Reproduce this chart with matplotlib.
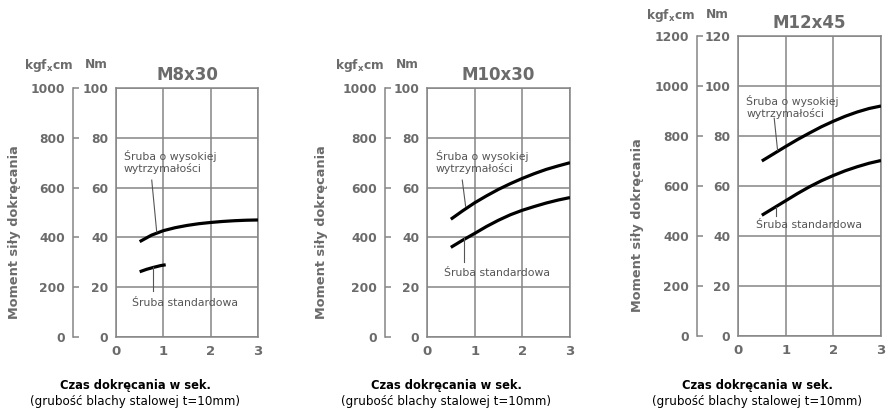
import matplotlib
matplotlib.use("Agg")
import matplotlib.pyplot as plt

plt.rcParams['font.family'] = ['DejaVu Sans']

W, H = 886, 409
DPI = 100

# ---------------- data (Nm) ----------------
titles = ["M8x30", "M10x30", "M12x45"]
x_ticks = [0, 1, 2, 3]
nm_ticks_small = [0, 20, 40, 60, 80, 100]
kgf_ticks_small = [0, 200, 400, 600, 800, 1000]
nm_ticks_big = [0, 20, 40, 60, 80, 100, 120]
kgf_ticks_big = [0, 200, 400, 600, 800, 1000, 1200]

m8_hs_x = [0.5, 0.75, 1.0, 1.25, 1.5, 1.75, 2.0, 2.25, 2.5, 2.75, 3.0]
m8_hs_y = [38.3, 40.9, 42.7, 43.9, 44.8, 45.5, 46.0, 46.4, 46.7, 46.9, 47.0]
m8_std_x = [0.5, 0.65, 0.8, 0.95, 1.05]
m8_std_y = [26.2, 27.2, 28.0, 28.7, 29.0]

m10_hs_x = [0.5, 0.75, 1.0, 1.25, 1.5, 1.75, 2.0, 2.25, 2.5, 2.75, 3.0]
m10_hs_y = [47.3, 50.7, 53.9, 56.7, 59.3, 61.6, 63.7, 65.6, 67.3, 68.7, 70.0]
m10_std_x = [0.5, 0.75, 1.0, 1.25, 1.5, 1.75, 2.0, 2.25, 2.5, 2.75, 3.0]
m10_std_y = [36.0, 38.9, 41.6, 44.4, 46.9, 49.1, 50.9, 52.4, 53.8, 55.0, 56.0]

m12_hs_x = [0.5, 0.75, 1.0, 1.25, 1.5, 1.75, 2.0, 2.25, 2.5, 2.75, 3.0]
m12_hs_y = [70.0, 72.9, 75.8, 78.6, 81.2, 83.7, 85.9, 87.9, 89.6, 91.0, 92.0]
m12_std_x = [0.5, 0.75, 1.0, 1.25, 1.5, 1.75, 2.0, 2.25, 2.5, 2.75, 3.0]
m12_std_y = [48.3, 51.2, 54.1, 57.0, 59.7, 62.1, 64.2, 66.1, 67.7, 69.1, 70.2]

label_hs = "Śruba o wysokiej\nwytrzymałości"
label_std = "Śruba standardowa"
ylabel = "Moment siły dokręcania"
xlabel1 = "Czas dokręcania w sek."
xlabel2 = "(grubość blachy stalowej t=10mm)"

GRAY = "#6b6b6b"
LINEG = "#858585"
ANN = "#555555"

fig = plt.figure(figsize=(W / DPI, H / DPI), dpi=DPI)


def fx(px):
    return px / W


def fy(py):
    return 1 - py / H


panels = [
    dict(l=116, r=258, t=88, b=337, spine=73, ymax=100, nm=nm_ticks_small, kgf=kgf_ticks_small,
         hs=(m8_hs_x, m8_hs_y), std=(m8_std_x, m8_std_y),
         hs_txt=(0.17, 70.3), hs_lead=((0.755, 63.0), (0.86, 42.2)),
         std_txt=(1.46, 13.8), std_lead=((0.79, 18.3), (0.79, 28.0)),
         title_y=75, head_y=65, head_kgf=49, head_nm=96, yl_x=15, yl_y=232, xl_x=135),
    dict(l=427, r=570, t=88, b=337, spine=385, ymax=100, nm=nm_ticks_small, kgf=kgf_ticks_small,
         hs=(m10_hs_x, m10_hs_y), std=(m10_std_x, m10_std_y),
         hs_txt=(0.18, 70.3), hs_lead=((0.74, 63.0), (0.81, 52.5)),
         std_txt=(1.47, 25.8), std_lead=((0.78, 30.2), (0.78, 39.6)),
         title_y=75, head_y=65, head_kgf=360, head_nm=407, yl_x=322, yl_y=232, xl_x=446),
    dict(l=738, r=881, t=36, b=336, spine=697, ymax=120, nm=nm_ticks_big, kgf=kgf_ticks_big,
         hs=(m12_hs_x, m12_hs_y), std=(m12_std_x, m12_std_y),
         hs_txt=(0.17, 91.6), hs_lead=((0.76, 87.1), (0.83, 74.3)),
         std_txt=(1.48, 44.4), std_lead=((0.79, 48.0), (0.79, 51.7)),
         title_y=23, head_y=15, head_kgf=671, head_nm=717, yl_x=638, yl_y=225, xl_x=757),
]

for i, p in enumerate(panels):
    ax = fig.add_axes([fx(p['l']), fy(p['b']), fx(p['r'] - p['l']), (p['b'] - p['t']) / H])
    ax.set_xlim(0, 3)
    ax.set_ylim(0, p['ymax'])
    ax.set_xticks(x_ticks)
    ax.set_yticks(p['nm'])
    ax.grid(True, color=LINEG, linewidth=1.1)
    ax.set_axisbelow(True)
    for s in ax.spines.values():
        s.set_color(LINEG)
        s.set_linewidth(1.1)
    ax.tick_params(axis='y', length=0, colors=GRAY, labelsize=8.8, pad=5.5)
    ax.tick_params(axis='x', length=0, colors=GRAY, labelsize=9.5, pad=6)
    for lab in ax.get_xticklabels() + ax.get_yticklabels():
        lab.set_fontweight('bold')
        lab.set_color(GRAY)

    # kgf axis
    ax2 = ax.twinx()
    ax2.set_ylim(0, p['ymax'] * 10)
    ax2.set_yticks(p['kgf'])
    ax2.yaxis.set_ticks_position('left')
    ax2.yaxis.set_label_position('left')
    for k, s in ax2.spines.items():
        s.set_visible(k == 'left')
    ax2.spines['left'].set_position(('outward', (p['l'] - p['spine']) * 72 / DPI))
    ax2.spines['left'].set_color(LINEG)
    ax2.spines['left'].set_linewidth(1.1)
    ax2.tick_params(axis='y', direction='in', length=6 * 72 / DPI, width=1.1, color=LINEG,
                    labelcolor=GRAY, labelsize=8.8, pad=5.5)
    for lab in ax2.get_yticklabels():
        lab.set_fontweight('bold')

    # curves
    ax.plot(*p['hs'], color='black', linewidth=2.3, solid_capstyle='butt',
            solid_joinstyle='round', zorder=5)
    ax.plot(*p['std'], color='black', linewidth=2.3, solid_capstyle='butt',
            solid_joinstyle='round', zorder=5)

    # annotations
    ax.text(p['hs_txt'][0], p['hs_txt'][1], label_hs, fontsize=7.8, color=ANN,
            ha='left', va='center', linespacing=1.2, zorder=6)
    (a, b) = p['hs_lead']
    ax.plot([a[0], b[0]], [a[1], b[1]], color=ANN, linewidth=0.8, zorder=6)
    ax.text(p['std_txt'][0], p['std_txt'][1], label_std, fontsize=7.8, color=ANN,
            ha='center', va='center', zorder=6)
    (a, b) = p['std_lead']
    ax.plot([a[0], b[0]], [a[1], b[1]], color=ANN, linewidth=0.8, zorder=6)

    # title and headers
    fig.text(fx((p['l'] + p['r']) / 2), fy(p['title_y']), titles[i], fontsize=12,
             fontweight='bold', color=GRAY, ha='center', va='center')
    fig.text(fx(p['head_kgf']), fy(p['head_y']), r"kgf$_{\mathregular{x}}$cm", fontsize=8.8,
             fontweight='bold', color=GRAY, ha='center', va='center')
    fig.text(fx(p['head_nm']), fy(p['head_y']), "Nm", fontsize=8.8,
             fontweight='bold', color=GRAY, ha='center', va='center')

    # y label
    fig.text(fx(p['yl_x']), fy(p['yl_y']), ylabel, fontsize=9.3, fontweight='bold', color=GRAY,
             rotation=90, ha='center', va='center')

    # x labels
    fig.text(fx(p['xl_x']), fy(385), xlabel1, fontsize=8.3, fontweight='bold', color='black',
             ha='center', va='center')
    fig.text(fx(p['xl_x']), fy(402), xlabel2, fontsize=8.6, color='black',
             ha='center', va='center')

fig.savefig("out.png", dpi=DPI)
